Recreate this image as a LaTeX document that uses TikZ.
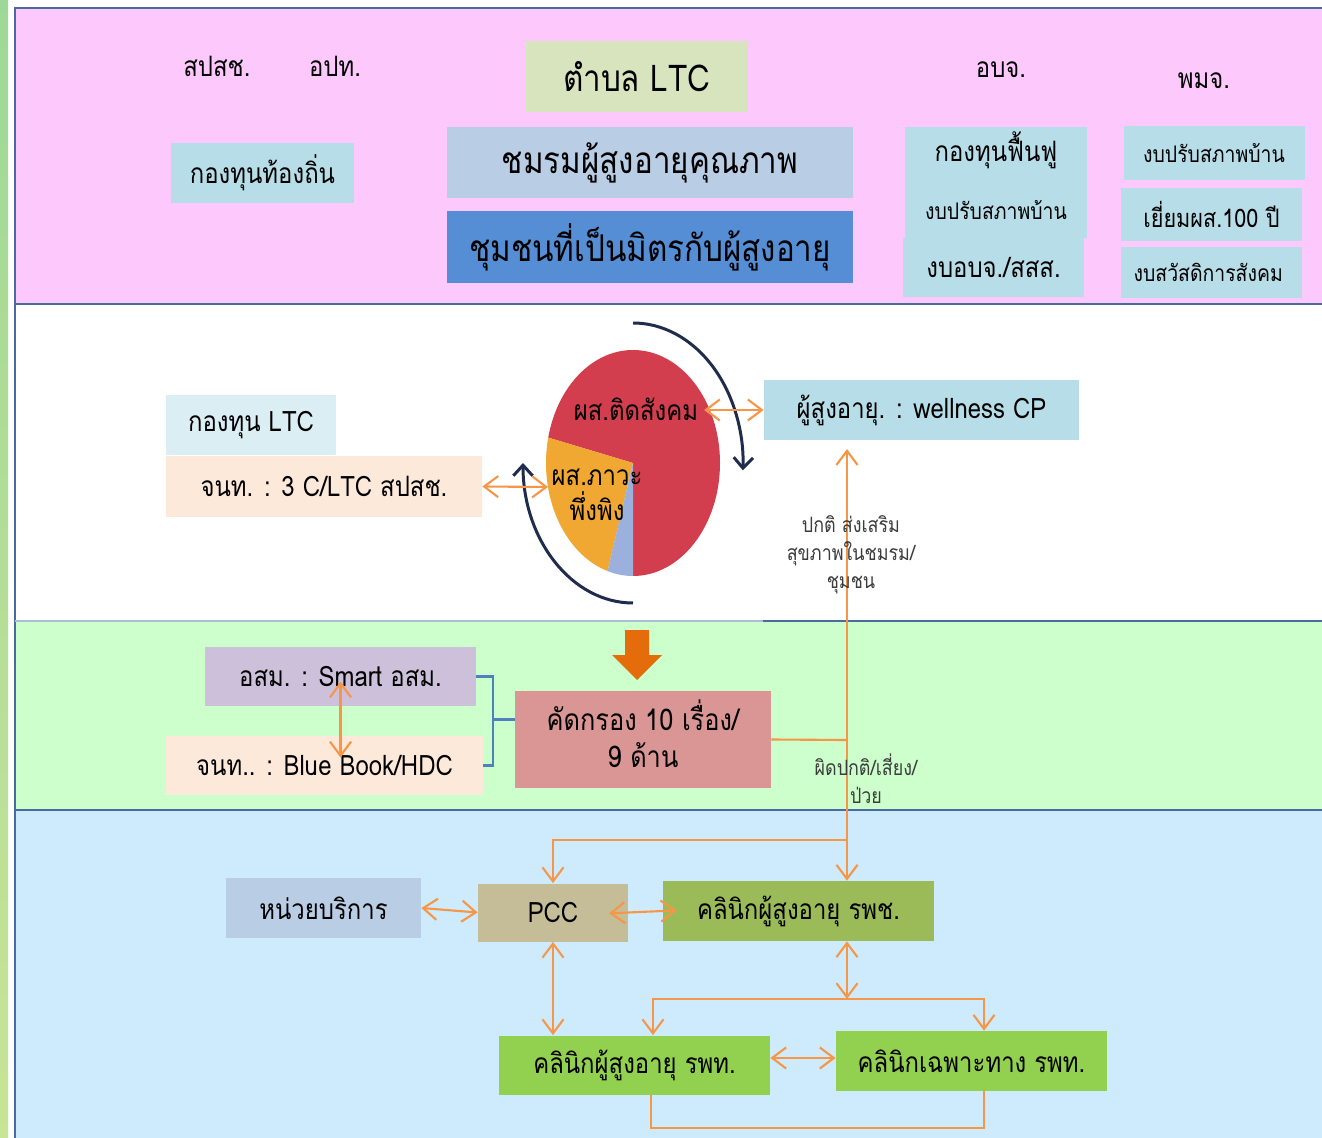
\documentclass[tikz,border=0pt]{standalone}
\usepackage{fontspec}
\setmainfont[Script=Thai,FakeStretch=0.85]{Loma}
\usepackage{tikz}
\usetikzlibrary{arrows.meta, calc}

\definecolor{StripTop}{RGB}{158,216,152}
\definecolor{StripBot}{RGB}{200,228,150}
\definecolor{BandPink}{RGB}{253,201,253}
\definecolor{BandGreen}{RGB}{204,255,204}
\definecolor{BandBlue}{RGB}{205,235,252}
\definecolor{BandLine}{RGB}{74,106,160}
\definecolor{BoxAqua}{RGB}{183,222,232}
\definecolor{BoxSky}{RGB}{185,205,229}
\definecolor{BoxLime}{RGB}{215,228,189}
\definecolor{BoxBlue}{RGB}{85,142,213}
\definecolor{BoxPale}{RGB}{219,238,244}
\definecolor{BoxPeach}{RGB}{253,233,217}
\definecolor{BoxLilac}{RGB}{204,192,218}
\definecolor{BoxRose}{RGB}{217,150,148}
\definecolor{BoxKhaki}{RGB}{196,189,151}
\definecolor{BoxOlive}{RGB}{155,187,89}
\definecolor{BoxGreen}{RGB}{146,208,80}
\definecolor{LinkOrange}{RGB}{247,150,70}
\definecolor{BlockOrange}{RGB}{228,108,10}
\definecolor{ArcNavy}{RGB}{31,44,78}
\definecolor{BracketBlue}{RGB}{79,129,189}
\definecolor{PieRed}{RGB}{210,62,78}
\definecolor{PieGold}{RGB}{240,168,50}
\definecolor{PieBlue}{RGB}{155,176,220}
\definecolor{NoteGray}{RGB}{60,60,60}

\newdimen\px \px=0.02cm
\newcommand{\sizeL}{\fontsize{21}{25}\selectfont}
\newcommand{\sizeM}{\fontsize{16}{20}\selectfont}
\newcommand{\sizeS}{\fontsize{13}{16}\selectfont}
\newcommand{\sizeXS}{\fontsize{12}{16}\selectfont}

\tikzset{
  box/.style 2 args={rectangle, inner sep=0pt, minimum width=#1\px,
                     minimum height=#2\px, align=center, text=black},
  bandline/.style={draw=BandLine, line width=1.6pt},
  oline/.style={draw=LinkOrange, line width=1.2pt},
  bracket/.style={draw=BracketBlue, line width=1.2pt},
  navyarc/.style={draw=ArcNavy, line width=1.7pt,
                  -{Straight Barb[length=6pt,width=11pt]}},
  note/.style={font=\sizeXS, text=NoteGray, align=center}
}

\begin{document}
\begin{tikzpicture}[x=0.02cm, y=0.02cm,
    >={Straight Barb[length=8pt,width=12pt]}]
  \useasboundingbox (0,0) rectangle (1322,-1138);
  % bands
  \shade[top color=StripTop, bottom color=StripBot] (0,0) rectangle (8,-1138);
  \fill[BandPink] (15,-8) rectangle (1322,-304);
  \fill[white] (15,-304) rectangle (1322,-621);
  \fill[BandGreen] (15,-621) rectangle (1322,-810);
  \fill[BandBlue] (15,-810) rectangle (1322,-1138);
  \draw[bandline] (1322,-8) -- (15,-8) -- (15,-1138);
  \draw[bandline] (15,-304) -- (1322,-304);
  \draw[bandline, draw=BandLine!45] (15,-621) -- (763,-621);
  \draw[bandline] (763,-621) -- (1322,-621);
  \draw[bandline] (15,-810) -- (1322,-810);

  % top band
  \node[font=\sizeM] (spsch) at (217,-66) {สปสช.};
  \node[font=\sizeM] (opt) at (335,-66) {อปท.};
  \node[box={222}{71}, fill=BoxLime, font=\sizeL] (tambon) at (636.5,-76.5)
        {ตำบล LTC};
  \node[box={183}{60}, fill=BoxAqua, font=\sizeM] (localfund) at (262.5,-173)
        {กองทุนท้องถิ่น};
  \node[box={406}{71}, fill=BoxSky, font=\sizeL] (club) at (650,-162.5)
        {ชมรมผู้สูงอายุคุณภาพ};
  \node[box={406}{72}, fill=BoxBlue, font=\sizeL] (friendly) at (650,-247)
        {ชุมชนที่เป็นมิตรกับผู้สูงอายุ};
  \node[font=\sizeM] (obj) at (1001,-70) {อบจ.};
  \node[font=\sizeM] (pmj) at (1204,-81) {พมจ.};
  \node[box={182}{111}, fill=BoxAqua, font=\sizeM] (rehab) at (996,-182.5)
        {กองทุนฟื้นฟู\\[13pt]{\sizeS งบปรับสภาพบ้าน}\\[-12pt]};
  \node[box={181}{59}, fill=BoxAqua, font=\sizeM] (objbudget) at (993.5,-267.5)
        {งบอบจ./สสส.};
  \foreach \name/\cx/\cy/\h/\fs/\txt in {
    pmjhome/1214/-153/54/13/งบปรับสภาพบ้าน,
    pmjvisit/1211.5/-214.5/53/14.5/เยี่ยมผส.100 ปี,
    pmjwelfare/1211.5/-272.5/51/13/งบสวัสดิการสังคม
  } {
    \node[box={181}{\h}, fill=BoxAqua, font=\fontsize{\fs}{18}\selectfont]
          (\name) at (\cx,\cy) {\txt};
  }

  % white band
  \node[box={170}{60}, fill=BoxPale, font=\sizeM] (ltcfund) at (251,-425)
        {กองทุน LTC};
  \node[box={316}{61}, fill=BoxPeach, font=\sizeM] (ltcstaff) at (324,-486.5)
        {จนท. : 3 C/LTC สปสช.};
  % pie
  \coordinate (pc) at (633,-463);
  \fill[PieRed] (pc) -- ($(pc)+(-90:87 and 113)$)
        arc[start angle=-90, end angle=167, x radius=87, y radius=113] -- cycle;
  \fill[PieGold] (pc) -- ($(pc)+(167:87 and 113)$)
        arc[start angle=167, end angle=253, x radius=87, y radius=113] -- cycle;
  \fill[PieBlue] (pc) -- ($(pc)+(253:87 and 113)$)
        arc[start angle=253, end angle=270, x radius=87, y radius=113] -- cycle;
  \node[font=\sizeM] (social) at (636,-409) {ผส.ติดสังคม};
  \node[font=\sizeM, align=center] (depend) at (597,-495) {ผส.ภาวะ\\พึ่งพิง};
  \draw[navyarc] (633,-323) arc[start angle=90, end angle=-3,
        x radius=110, y radius=140];
  \draw[navyarc] (633,-603) arc[start angle=270, end angle=180,
        x radius=110, y radius=140];
  \node[box={315}{60}, fill=BoxAqua, font=\sizeM] (wellness) at (921.5,-410)
        {ผู้สูงอายุ. : wellness CP};
  \coordinate (dependin) at (548,-487);
  \coordinate (socialout) at (704,-410);
  \draw[oline, <->] (ltcstaff.east) -- (dependin);
  \draw[oline, <->] (socialout) -- (wellness.west);

  % green band
  \fill[BlockOrange] (625,-630) -- (649,-630) -- (649,-655) -- (662,-655)
        -- (637,-680) -- (612,-655) -- (625,-655) -- cycle;
  \node[box={271}{59}, fill=BoxLilac, font=\sizeM] (osm) at (340.5,-676.5)
        {อสม. : Smart อสม.};
  \node[box={317}{59}, fill=BoxPeach, font=\sizeM] (bluebook) at (324.5,-765.5)
        {จนท.. : Blue Book/HDC};
  \node[box={256}{97}, fill=BoxRose, font=\fontsize{17}{21}\selectfont]
        (screen) at (643,-739.5) {คัดกรอง 10 เรื่อง/\\9 ด้าน\\[-14pt]};
  \draw[oline, <->] ($(osm.center)+(0,-5)$) -- ($(osm.center |- bluebook.center)+(0,8)$);
  \draw[bracket] (osm.east) -- ++(17,0) coordinate (brk) |- (bluebook.east);
  \draw[bracket] ([yshift=20\px]screen.west) -- ([yshift=20\px]screen.west -| brk);

  % blue band
  \node[box={195}{60}, fill=BoxSky, font=\sizeM] (service) at (323.5,-908)
        {หน่วยบริการ};
  \node[box={150}{58}, fill=BoxKhaki, font=\sizeM] (pcc) at (553,-912.5) {PCC};
  \node[box={271}{60}, fill=BoxOlive, font=\sizeM] (rpch) at (798.5,-911)
        {คลินิกผู้สูงอายุ รพช.};
  \node[box={271}{59}, fill=BoxGreen, font=\sizeM] (rpt) at (634.5,-1065)
        {คลินิกผู้สูงอายุ รพท.};
  \node[box={271}{60}, fill=BoxGreen, font=\sizeM] (spec) at (971.5,-1061)
        {คลินิกเฉพาะทาง รพท.};

  % screening paths
  \coordinate (split) at (847,-740);
  \coordinate (fork) at (847,-840);
  \coordinate (hub) at (847,-999);
  \draw[oline] (screen.east) -- (split);
  \draw[oline, ->, shorten >=5pt] (split) -- (split |- wellness.south);
  \draw[oline, ->] (split) -- (split |- rpch.north);
  \draw[oline, ->] (fork) -| (pcc.north);
  \node[note] (normal) at (851,-555) {ปกติ ส่งเสริม\\สุขภาพในชมรม/\\ชุมชน};
  \node[note] (abnormal) at (866,-779) {ผิดปกติ/เสี่ยง/\\ป่วย};

  \draw[oline, <->] (service.east) -- (pcc.west);
  \draw[oline, <->, shorten <=-11pt, shorten >=-8pt] (pcc.east) -- (rpch.west);
  \draw[oline, <->] (pcc.south) -- (pcc.south |- rpt.north);
  \draw[oline, <->] (rpch.south -| hub) -- (hub);
  \draw[oline, ->] (hub) -| ([xshift=18.5\px]rpt.north);
  \draw[oline, ->] (hub) -| ([xshift=12.5\px]spec.north);
  \draw[oline, <->] ([yshift=7\px]rpt.east) -- ([yshift=3\px]spec.west);
  \draw[oline] ([xshift=16.5\px]rpt.south) -- ++(0,-33) -| ([xshift=12.5\px]spec.south);
\end{tikzpicture}
\end{document}
